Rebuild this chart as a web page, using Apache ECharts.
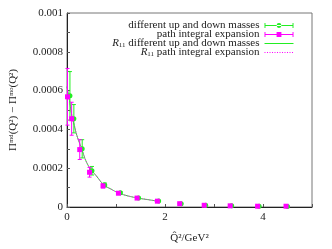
<!DOCTYPE html>
<html><head><meta charset="utf-8">
<script src="https://cdn.jsdelivr.net/npm/echarts@6/dist/echarts.min.js"></script>
<style>html,body{margin:0;padding:0;background:#fff}#c{width:332px;height:249px}</style>
</head><body><div id="c"></div>
<script>
// different up and down masses (green)
var qGreen = [0.06, 0.14, 0.31, 0.51, 0.77, 1.09, 1.46, 1.87, 2.33, 2.83, 3.36, 3.92, 4.50];
var vGreen = [0.000573, 0.000455, 0.000300, 0.000187, 0.000114, 0.000074, 0.000047, 0.000031, 0.000017, 0.0000088, 0.000006, 0.000004, 0.000003];
var eGreen = [0.000125, 0.000073, 0.000047, 0.000022, 0.000010, 0.000006, 0.000004, 0.000003, 0.000002, 0.000001, 0.000001, 0.000001, 0.000001];
// path integral expansion (magenta)
var qMag = [0.01, 0.095, 0.26, 0.46, 0.735, 1.05, 1.43, 1.845, 2.30, 2.80, 3.33, 3.89, 4.47];
var vMag = [0.000568, 0.000455, 0.000296, 0.000179, 0.000109, 0.000071, 0.000046, 0.000030, 0.000017, 0.0000088, 0.000006, 0.000004, 0.000004];
var eMag = [0.000146, 0.000085, 0.000051, 0.000025, 0.000011, 0.000006, 0.000004, 0.000003, 0.000002, 0.000001, 0.000001, 0.000001, 0.000001];
// R11 curves
var curveQ = [0, 0.05, 0.1, 0.15, 0.2, 0.3, 0.4, 0.5, 0.6, 0.75, 0.9, 1.05, 1.2, 1.45, 1.65, 1.85];
var curveGreen = [0.00062, 0.00055, 0.00047, 0.00042, 0.00037, 0.00030, 0.00023, 0.00019, 0.00016, 0.000115, 0.000092, 0.000073, 0.00006, 0.000046, 0.000038, 0.00003];
var curveMag = [0.00062, 0.00055, 0.00047, 0.00042, 0.00037, 0.00030, 0.00023, 0.00019, 0.00016, 0.000115, 0.000092, 0.000073, 0.00006, 0.000046, 0.000038, 0.00003];
var yTicks = [0, 0.0002, 0.0004, 0.0006, 0.0008, 0.001];
var xTicks = [0, 2, 4];

var names = ['different up and down masses', 'path integral expansion',
  'R11 different up and down masses', 'R11 path integral expansion'];
var GREEN = '#22ee22', MAG = '#ff00ff';
var FONT = 'Liberation Serif';

function pairs(xs, ys) { return xs.map(function (x, i) { return [x, ys[i]]; }); }
function errData(xs, ys, es) { return xs.map(function (x, i) { return [x, ys[i] - es[i], ys[i] + es[i]]; }); }
function errRender(color) {
  return function (params, api) {
    var lo = api.coord([api.value(0), api.value(1)]);
    var hi = api.coord([api.value(0), api.value(2)]);
    var w = 2;
    return { type: 'group', children: [
      { type: 'line', shape: { x1: lo[0], y1: lo[1], x2: hi[0], y2: hi[1] }, style: { stroke: color, lineWidth: 1 } },
      { type: 'line', shape: { x1: lo[0] - w, y1: lo[1], x2: lo[0] + w, y2: lo[1] }, style: { stroke: color, lineWidth: 1 } },
      { type: 'line', shape: { x1: hi[0] - w, y1: hi[1], x2: hi[0] + w, y2: hi[1] }, style: { stroke: color, lineWidth: 1 } }
    ] };
  };
}
var iconCircle = 'path://M0,2h30v1h-30zM0,0h1v5h-1zM29,0h1v5h-1zM12.5,2.5a2.5,2.5 0 1,0 5,0a2.5,2.5 0 1,0 -5,0z';
var iconSquare = 'path://M0,2h30v1h-30zM0,0h1v5h-1zM29,0h1v5h-1zM12.5,0h5v5h-5z';

var chart = echarts.init(document.getElementById('c'), null, { renderer: 'canvas' });
chart.setOption({
  animation: false,
  textStyle: { fontFamily: FONT },
  grid: { left: 65, right: 20, top: 13, bottom: 31, show: true, borderColor: '#777', borderWidth: 1 },
  legend: {
    orient: 'vertical', right: 33, top: 15, align: 'right', itemGap: -2,
    itemWidth: 29, itemHeight: 5,
    textStyle: { fontFamily: FONT, fontSize: 11, color: '#222',
      rich: { i: { fontFamily: FONT, fontStyle: 'italic', fontSize: 11, color: '#222' },
              s: { fontFamily: FONT, fontSize: 7, color: '#222', padding: [4, 0, 0, 0] },
              t: { fontFamily: FONT, fontSize: 11, color: '#222' } } },
    formatter: function (n) {
      if (n.indexOf('R11 ') === 0) return '{i|R}{s|11}{t| ' + n.slice(4) + '}';
      return n;
    },
    data: [
      { name: names[0], icon: iconCircle },
      { name: names[1], icon: iconSquare },
      { name: names[2], itemStyle: { opacity: 0 }, lineStyle: { width: 1 } },
      { name: names[3], itemStyle: { opacity: 0 }, lineStyle: { width: 1 } }
    ]
  },
  xAxis: {
    type: 'value', min: 0, max: 5, interval: 1,
    name: 'Q\u0302\u00B2/GeV\u00B2', nameLocation: 'middle', nameGap: 26,
    nameTextStyle: { fontFamily: FONT, fontSize: 11, color: '#222' },
    axisLine: { lineStyle: { color: '#222' } },
    axisTick: { inside: true, length: 3, lineStyle: { color: '#555' } },
    splitLine: { show: false },
    axisLabel: { fontFamily: FONT, fontSize: 11, color: '#222', margin: 5,
      formatter: function (v) { return xTicks.indexOf(Math.round(v)) >= 0 && Math.abs(v - Math.round(v)) < 1e-9 ? String(Math.round(v)) : ''; } }
  },
  yAxis: {
    type: 'value', min: 0, max: 0.001, interval: 0.0001,
    name: '\u03A0\u1D50\u1D48(Q\u00B2) \u2212 \u03A0\u1D50\u1D52(Q\u00B2)', nameLocation: 'middle', nameGap: 48,
    nameTextStyle: { fontFamily: FONT, fontSize: 11, color: '#222' },
    axisLine: { lineStyle: { color: '#222' } },
    axisTick: { inside: true, length: 3, lineStyle: { color: '#555' } },
    splitLine: { show: false },
    axisLabel: { fontFamily: FONT, fontSize: 11, color: '#222', margin: 4,
      formatter: function (v) {
        for (var i = 0; i < yTicks.length; i++) if (Math.abs(v - yTicks[i]) < 1e-9) return String(yTicks[i]);
        return '';
      } }
  },
  series: [
    { name: names[2], type: 'line', data: pairs(curveQ, curveGreen), symbol: 'none', smooth: true,
      lineStyle: { color: GREEN, width: 1 }, itemStyle: { color: GREEN }, z: 2 },
    { name: names[3], type: 'line', data: pairs(curveQ, curveMag), symbol: 'none', smooth: true,
      lineStyle: { color: MAG, width: 1, type: [1, 1.5] }, itemStyle: { color: MAG }, z: 3 },
    { name: names[0] + ' err', type: 'custom', renderItem: errRender(GREEN), data: errData(qGreen, vGreen, eGreen),
      encode: { x: 0, y: [1, 2] }, z: 4 },
    { name: names[1] + ' err', type: 'custom', renderItem: errRender(MAG), data: errData(qMag, vMag, eMag),
      encode: { x: 0, y: [1, 2] }, z: 4 },
    { name: names[0], type: 'scatter', data: pairs(qGreen, vGreen), symbol: 'circle', symbolSize: 5,
      itemStyle: { color: GREEN, opacity: 1 }, z: 5 },
    { name: names[1], type: 'scatter', data: pairs(qMag, vMag), symbol: 'rect', symbolSize: 5,
      itemStyle: { color: MAG, opacity: 1 }, z: 6 }
  ]
});
</script></body></html>
